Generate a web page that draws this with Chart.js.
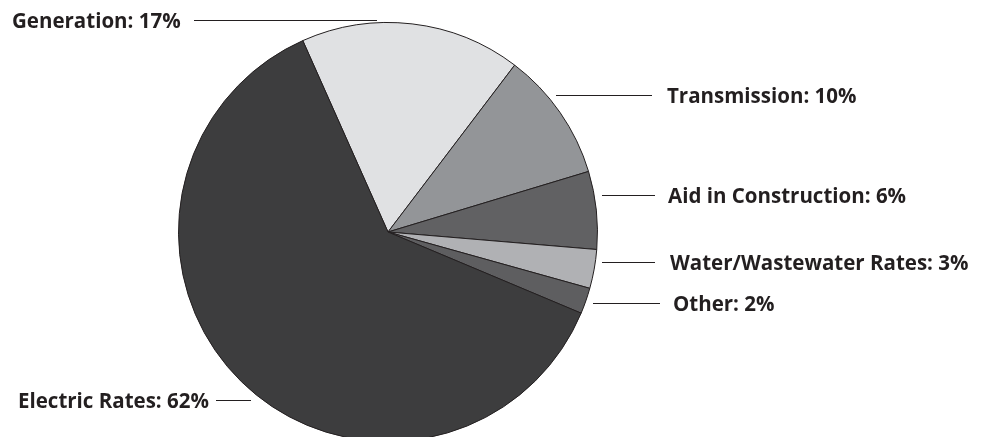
<!DOCTYPE html>
<html>
<head>
<meta charset="utf-8">
<script src="https://cdn.jsdelivr.net/npm/chart.js@4.4.0/dist/chart.umd.min.js"></script>
<style>
  html, body { margin: 0; padding: 0; background: #fff; overflow: hidden; }
  #wrap { position: relative; width: 982px; height: 450px; }
</style>
</head>
<body>
<div id="wrap"><canvas id="pie"></canvas></div>
<script>
// data
const categories = ['Generation', 'Transmission', 'Aid in Construction', 'Water/Wastewater Rates', 'Other', 'Electric Rates'];
const shares = [17, 10, 6, 3, 2, 62];
const sliceColors = ['#e0e1e3', '#939598', '#616163', '#b0b1b4', '#5e5e60', '#3d3d3e'];

// label layout: text left x, text middle y, leader line x1..x2
const labelLayout = [
    { tx: 12,  ty: 21,  lx1: 194, lx2: 377 },
    { tx: 667, ty: 96,  lx1: 556, lx2: 652 },
    { tx: 668, ty: 196, lx1: 602, lx2: 655 },
    { tx: 670, ty: 263, lx1: 602, lx2: 655 },
    { tx: 673, ty: 304, lx1: 593, lx2: 660 },
    { tx: 18,  ty: 401, lx1: 216, lx2: 251 }
];

const labelPlugin = {
    id: 'sideLabels',
    afterDraw(chart) {
        const ctx = chart.ctx;
        ctx.save();
        ctx.font = 'bold 20.5px "Open Sans"';
        ctx.fillStyle = '#231f20';
        ctx.strokeStyle = '#231f20';
        ctx.lineWidth = 1;
        ctx.textBaseline = 'middle';
        categories.forEach(function(name, i) {
            const p = labelLayout[i];
            ctx.fillText(name + ': ' + shares[i] + '%', p.tx, p.ty + 1);
            ctx.beginPath();
            ctx.moveTo(p.lx1, p.ty - 0.5);
            ctx.lineTo(p.lx2, p.ty - 0.5);
            ctx.stroke();
        });
        ctx.restore();
    }
};

const ctx = document.getElementById('pie').getContext('2d');
const chart = new Chart(ctx, {
    type: 'pie',
    data: {
        labels: categories,
        datasets: [{
            data: shares,
            backgroundColor: sliceColors,
            borderColor: '#231f20',
            borderWidth: 1
        }]
    },
    options: {
        responsive: true,
        maintainAspectRatio: false,
        animation: false,
        rotation: -24,
        layout: { padding: { left: 178, right: 384, top: 22, bottom: 8 } },
        plugins: {
            legend: { display: false },
            tooltip: { enabled: false }
        }
    },
    plugins: [labelPlugin]
});
</script>
</body>
</html>
